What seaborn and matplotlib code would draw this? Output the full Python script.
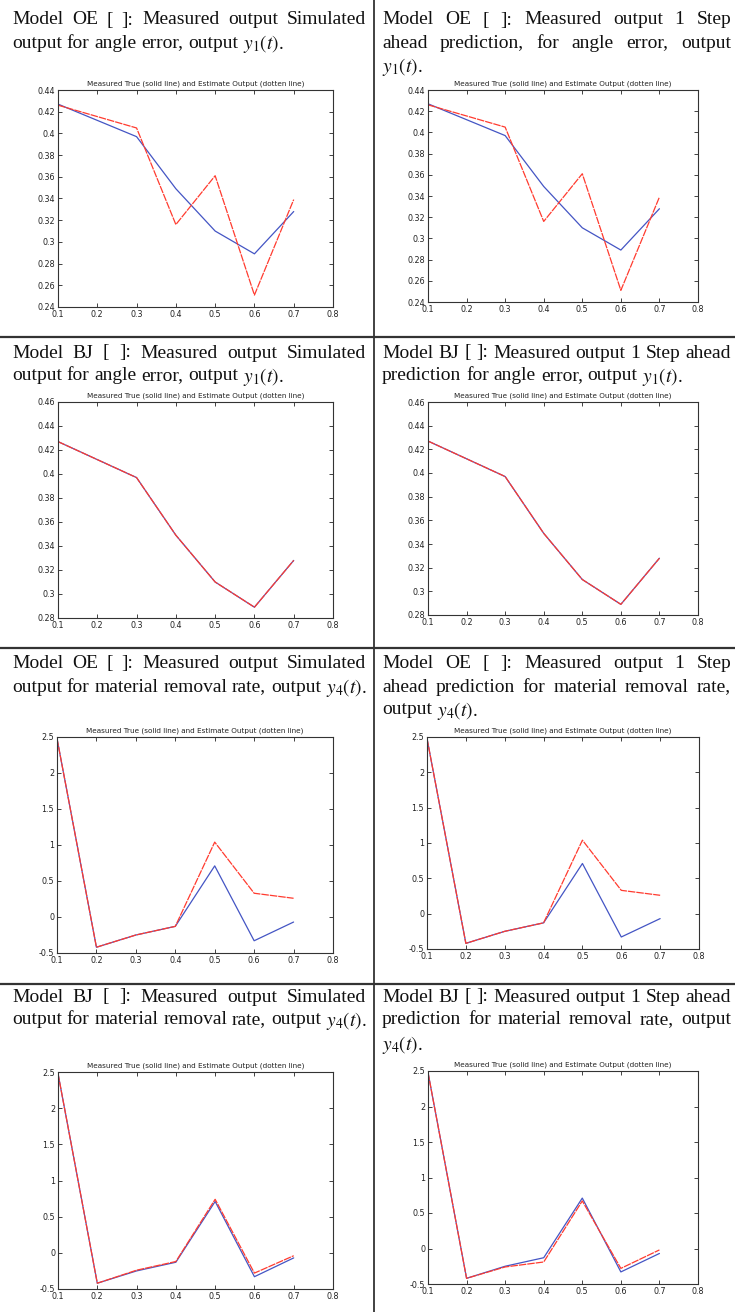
import numpy as np
import pandas as pd
import matplotlib
matplotlib.use("Agg")
import matplotlib.pyplot as plt
from matplotlib.lines import Line2D
import seaborn as sns

# ---------------- data ----------------
x_angle = [0.1, 0.3, 0.4, 0.5, 0.6, 0.7]
angle_true = [0.427, 0.397, 0.349, 0.310, 0.289, 0.328]
angle_oe_est = [0.426, 0.405, 0.316, 0.361, 0.251, 0.339]
angle_bj_est = [0.427, 0.397, 0.349, 0.310, 0.289, 0.328]

x_mrr = [0.1, 0.2, 0.3, 0.4, 0.5, 0.6, 0.7]
mrr_true = [2.48, -0.42, -0.25, -0.13, 0.71, -0.33, -0.07]
mrr_oe_est = [2.48, -0.42, -0.25, -0.13, 1.04, 0.33, 0.26]
mrr_bj_sim_est = [2.48, -0.42, -0.24, -0.12, 0.74, -0.28, -0.04]
mrr_bj_pred_est = [2.48, -0.42, -0.26, -0.19, 0.67, -0.28, -0.02]

x_ticks = [0.1, 0.2, 0.3, 0.4, 0.5, 0.6, 0.7, 0.8]
angle_oe_yticks = [0.24, 0.26, 0.28, 0.3, 0.32, 0.34, 0.36, 0.38, 0.4, 0.42, 0.44]
angle_bj_yticks = [0.28, 0.3, 0.32, 0.34, 0.36, 0.38, 0.4, 0.42, 0.44, 0.46]
mrr_yticks = [-0.5, 0, 0.5, 1, 1.5, 2, 2.5]

plot_title = "Measured True (solid line) and Estimate Output (dotten line)"

captions = [
    ["Model OE [ ]: Measured output Simulated", "output for angle error, output $y_1(t)$."],
    ["Model OE [ ]: Measured output 1 Step", "ahead prediction, for angle error, output", "$y_1(t)$."],
    ["Model BJ [ ]: Measured output Simulated", "output for angle error, output $y_1(t)$."],
    ["Model BJ [ ]: Measured output 1 Step ahead", "prediction for angle error, output $y_1(t)$."],
    ["Model OE [ ]: Measured output Simulated", "output for material removal rate, output $y_4(t)$."],
    ["Model OE [ ]: Measured output 1 Step", "ahead prediction for material removal rate,", "output $y_4(t)$."],
    ["Model BJ [ ]: Measured output Simulated", "output for material removal rate, output $y_4(t)$."],
    ["Model BJ [ ]: Measured output 1 Step ahead", "prediction for material removal rate, output", "$y_4(t)$."],
]

panels = [
    (x_angle, angle_true, angle_oe_est, angle_oe_yticks),
    (x_angle, angle_true, angle_oe_est, angle_oe_yticks),
    (x_angle, angle_true, angle_bj_est, angle_bj_yticks),
    (x_angle, angle_true, angle_bj_est, angle_bj_yticks),
    (x_mrr, mrr_true, mrr_oe_est, mrr_yticks),
    (x_mrr, mrr_true, mrr_oe_est, mrr_yticks),
    (x_mrr, mrr_true, mrr_bj_sim_est, mrr_yticks),
    (x_mrr, mrr_true, mrr_bj_pred_est, mrr_yticks),
]

# ---------------- layout (pixels) ----------------
W, H = 735, 1312
sns.set_style("ticks")
plt.rcParams["mathtext.fontset"] = "stix"
plt.rcParams["font.family"] = ["DejaVu Sans"]

fig = plt.figure(figsize=(W / 100, H / 100), dpi=100)

ax_boxes = [
    (58, 90, 333, 307), (428, 90, 698, 302),
    (58, 402, 333, 618), (428, 402, 698, 615),
    (57, 737, 333, 953), (427, 737, 699, 949),
    (58, 1072, 333, 1289), (428, 1071, 698, 1284),
]
cap_x = [(12, 366), (382, 731)]
cap_y = [[18, 41, 64], [351, 374, 397], [662, 685, 708], [995, 1018, 1042]]

blue = "#4455c4"
red = "#ff3b2f"

for i, (xs, yt, ye, yticks) in enumerate(panels):
    l, t, r, b = ax_boxes[i]
    ax = fig.add_axes([l / W, 1 - b / H, (r - l) / W, (b - t) / H])
    df = pd.DataFrame({"x": xs, "true": yt, "est": ye})
    sns.lineplot(data=df, x="x", y="true", ax=ax, color=blue, lw=0.9)
    sns.lineplot(data=df, x="x", y="est", ax=ax, color=red, lw=0.9,
                 linestyle=(0, (6, 0.8)))
    ax.set_xlim(0.1, 0.8)
    ax.set_ylim(yticks[0], yticks[-1])
    ax.set_xticks(x_ticks)
    ax.set_xticklabels([f"{v:g}" for v in x_ticks])
    ax.set_yticks(yticks)
    ax.set_yticklabels([f"{v:g}" for v in yticks])
    ax.set_xlabel("")
    ax.set_ylabel("")
    ax.set_title(plot_title, fontsize=5.2, color="#222222", pad=3)
    ax.tick_params(direction="in", length=3, width=0.6, labelsize=5.8,
                   top=True, right=True, colors="#222222", pad=2)
    for s in ax.spines.values():
        s.set_linewidth(0.8)
        s.set_color("#333333")
        s.set_visible(True)

# ---------------- captions (justified) ----------------
renderer = fig.canvas.get_renderer()
cap_font = dict(family=["Liberation Serif", "DejaVu Serif"], size=14.0, color="#111111")


def word_width(w):
    t = fig.text(0, 0, w, **cap_font)
    bb = t.get_window_extent(renderer)
    t.remove()
    return bb.width


space_w = word_width("a b") - word_width("ab")

for i, lines in enumerate(captions):
    col = i % 2
    row = i // 2
    x0, x1 = cap_x[col]
    for j, line in enumerate(lines):
        words = line.split(" ")
        widths = [word_width(w) for w in words]
        last = j == len(lines) - 1
        if last or len(words) == 1:
            gap = space_w
        else:
            gap = (x1 - x0 - sum(widths)) / (len(words) - 1)
        xpos = x0
        yc = cap_y[row][j]
        for w, ww in zip(words, widths):
            fig.text(xpos / W, 1 - yc / H, w, ha="left", va="center_baseline",
                     **cap_font)
            xpos += ww + gap

# ---------------- grid lines ----------------
for yy in [337, 648, 984]:
    fig.add_artist(Line2D([0, 1], [1 - yy / H, 1 - yy / H], color="#333333", lw=1.6))
fig.add_artist(Line2D([374 / W, 374 / W], [0, 1], color="#333333", lw=1.3))

fig.savefig("out.png", dpi=100)
